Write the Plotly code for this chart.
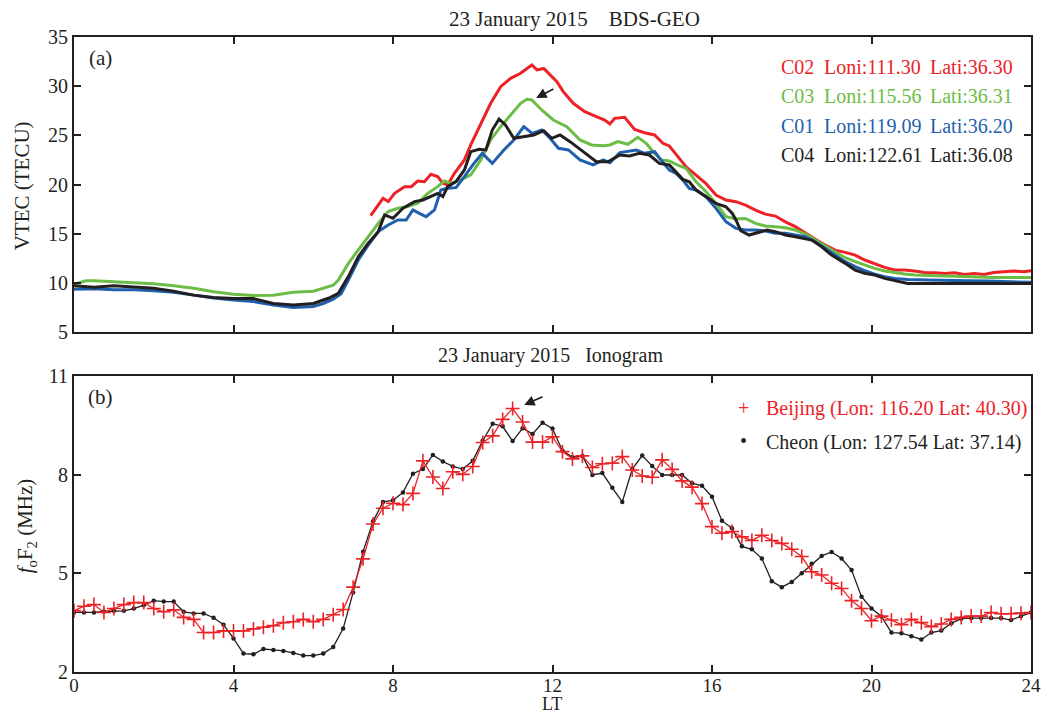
import plotly.graph_objects as go

# ---------------- Data: panel (a) VTEC (TECU) vs LT ----------------
c02_t = [7.44, 7.63, 7.75, 7.88, 8.04, 8.29, 8.46, 8.62, 8.79, 8.95, 9.12, 9.25, 9.37, 9.54, 9.79, 9.95,
         10.2, 10.45, 10.7, 10.95, 11.2, 11.36, 11.48, 11.61, 11.78, 12.11, 12.27, 12.52, 12.81, 13.1,
         13.31, 13.44, 13.56, 13.81, 14.06, 14.31, 14.56, 14.77, 14.93, 15.18, 15.35, 15.6, 15.85, 16.1,
         16.35, 16.6, 16.84, 17.09, 17.34, 17.59, 17.84, 18.09, 18.34, 18.59, 18.84, 19.09, 19.34, 19.59,
         19.83, 20.08, 20.33, 20.58, 20.83, 21.08, 21.33, 21.58, 21.83, 22.08, 22.33, 22.58, 22.82, 23.07,
         23.32, 23.57, 23.82, 24.0]
c02_v = [16.83, 17.92, 18.6, 18.26, 19.1, 19.78, 19.78, 20.36, 20.29, 21.04, 20.8, 20.12, 19.95, 21.14, 22.5, 24.02,
         26.22, 28.26, 29.95, 30.8, 31.31, 31.8, 32.15, 31.65, 31.8, 30.46, 29.44, 28.26, 27.41, 26.9,
         26.56, 26.15, 26.73, 26.83, 25.61, 25.27, 25.04, 24.19, 23.92, 22.66, 21.8, 20.96, 20.1, 18.93,
         18.42, 18.25, 17.9, 17.4, 16.99, 16.79, 16.2, 15.71, 15.03, 14.42, 13.84, 13.33, 13.1, 12.82,
         12.32, 11.91, 11.57, 11.3, 11.3, 11.2, 11.06, 11.03, 10.96, 11.03, 10.86, 10.96, 10.86, 11.06,
         11.13, 11.2, 11.13, 11.23]

c03_t = [0, 0.3, 0.5, 1.0, 1.5, 2.0, 2.5, 3.0, 3.5, 4.0, 4.5, 5.0, 5.5, 6.0, 6.25, 6.5, 6.63, 6.88, 7.13,
         7.38, 7.63, 7.88, 8.12, 8.37, 8.62, 8.87, 9.12, 9.29, 9.45, 9.7, 9.95, 10.2, 10.45, 10.7, 10.95,
         11.2, 11.36, 11.48, 11.73, 12.02, 12.36, 12.69, 12.98, 13.27, 13.44, 13.64, 13.89, 14.14, 14.35,
         14.52, 14.72, 14.93, 15.1, 15.35, 15.6, 15.85, 16.1, 16.35, 16.6, 16.84, 17.09, 17.34, 17.59,
         17.84, 18.09, 18.34, 18.59, 18.84, 19.09, 19.34, 19.59, 19.83, 20.08, 20.33, 20.58, 20.83, 21.08,
         21.33, 21.58, 21.83, 22.08, 22.58, 23.07, 23.57, 24.0]
c03_v = [9.85, 10.2, 10.2, 10.1, 10.0, 9.9, 9.7, 9.45, 9.1, 8.85, 8.7, 8.75, 9.05, 9.15, 9.45, 9.75, 10.29, 11.98, 13.34,
         14.7, 16.05, 17.24, 17.58, 17.75, 18.09, 19.1, 19.78, 20.36, 20.12, 20.46, 20.97, 22.5, 24.53, 25.88, 27.07,
         28.26, 28.66, 28.6, 27.58, 26.56, 25.88, 24.53, 24.02, 23.95, 24.02, 24.36, 24.09, 24.8, 24.19,
         23.34, 22.5, 22.39, 22.05, 21.64, 20.28, 19.27, 18.08, 16.72, 16.49, 16.55, 16.05, 15.78, 15.71,
         15.61, 15.37, 14.96, 14.35, 13.74, 13.17, 12.55, 12.15, 11.81, 11.47, 11.2, 11.03, 10.89, 10.79,
         10.76, 10.72, 10.69, 10.62, 10.62, 10.55, 10.55, 10.55]

c01_t = [0, 0.5, 1.0, 1.5, 2.0, 2.5, 3.0, 3.5, 4.0, 4.5, 5.0, 5.5, 6.0, 6.25, 6.5, 6.7, 6.88, 7.13, 7.38,
         7.63, 7.88, 8.12, 8.33, 8.5, 8.66, 8.83, 9.04, 9.2, 9.37, 9.58, 9.79, 10.03, 10.24, 10.49, 10.78,
         11.03, 11.28, 11.49, 11.73, 11.94, 12.15, 12.4, 12.69, 13.02, 13.27, 13.44, 13.69, 13.89, 14.1,
         14.31, 14.56, 14.72, 14.93, 15.1, 15.27, 15.43, 15.6, 15.85, 16.1, 16.35, 16.6, 16.84, 17.09,
         17.34, 17.59, 17.84, 18.09, 18.34, 18.59, 18.84, 19.09, 19.34, 19.59, 19.83, 20.08, 20.33, 20.58,
         20.91, 21.41, 21.91, 22.41, 22.91, 23.41, 24.0]
c01_v = [9.35, 9.4, 9.3, 9.3, 9.2, 9.05, 8.75, 8.45, 8.25, 8.1, 7.75, 7.5, 7.6, 7.9, 8.35, 8.9, 10.29, 12.32, 13.85,
         15.21, 15.88, 16.39, 16.39, 17.41, 17.07, 16.73, 17.41, 19.44, 19.61, 19.68, 20.8, 22.15, 23.17, 22.15, 23.51,
         24.53, 25.88, 25.2, 25.54, 24.7, 23.68, 23.51, 22.5, 21.99, 22.5, 22.22, 23.24, 23.34, 23.51,
         23.17, 23.34, 22.5, 21.48, 21.13, 20.45, 19.6, 19.44, 18.76, 17.57, 16.22, 15.54, 15.37, 15.37,
         15.27, 15.03, 15.03, 14.86, 14.69, 14.18, 13.5, 12.82, 12.15, 11.64, 11.23, 10.89, 10.62, 10.45,
         10.35, 10.28, 10.22, 10.22, 10.18, 10.11, 10.05]

c04_t = [0, 0.5, 1.0, 1.5, 2.0, 2.5, 3.0, 3.5, 4.0, 4.5, 5.0, 5.5, 6.0, 6.38, 6.63, 6.88, 7.13, 7.38, 7.63,
         7.79, 8.0, 8.25, 8.54, 8.75, 8.95, 9.12, 9.25, 9.37, 9.58, 9.79, 9.95, 10.16, 10.33, 10.49, 10.66,
         10.82, 11.03, 11.28, 11.53, 11.78, 11.98, 12.19, 12.44, 12.77, 13.1, 13.39, 13.69, 13.93, 14.18,
         14.43, 14.68, 14.93, 15.1, 15.27, 15.43, 15.6, 15.85, 16.1, 16.35, 16.51, 16.6, 16.72, 16.93,
         17.18, 17.38, 17.59, 17.84, 18.09, 18.34, 18.5, 18.75, 19.0, 19.34, 19.59, 19.83, 20.08, 20.33,
         20.58, 20.91, 21.41, 21.91, 22.41, 22.91, 23.41, 24.0]
c04_v = [9.7, 9.55, 9.7, 9.6, 9.45, 9.15, 8.75, 8.5, 8.4, 8.4, 7.9, 7.75, 7.9, 8.43, 8.93, 10.63, 12.66, 14.02, 15.21,
         16.9, 16.56, 17.58, 18.26, 18.43, 18.77, 19.1, 18.77, 19.78, 20.29, 21.48, 23.34, 23.58, 23.51, 25.54, 26.66,
         26.05, 24.7, 24.87, 25.04, 25.47, 24.7, 25.04, 24.36, 23.34, 22.32, 22.32, 23.0, 22.9, 23.17,
         23.0, 22.15, 21.99, 21.3, 20.52, 20.28, 19.44, 18.76, 18.08, 17.74, 17.06, 16.4, 15.3, 14.86,
         15.1, 15.37, 15.2, 14.86, 14.69, 14.52, 14.35, 13.67, 12.82, 11.98, 11.3, 10.96, 10.79, 10.45,
         10.22, 9.94, 9.94, 9.94, 9.94, 9.94, 9.94, 9.94]

# ---------------- Data: panel (b) foF2 (MHz), 15-min samples from 0 to 24 LT ----------------
beijing_f = [3.86, 4.0, 4.05, 3.81, 3.93, 4.05, 4.11, 4.11, 3.93, 3.83, 3.89, 3.66, 3.60, 3.20, 3.20, 3.25,
             3.25, 3.25, 3.31, 3.36, 3.41, 3.50, 3.53, 3.60, 3.53, 3.60, 3.74, 3.90, 4.58, 5.44, 6.50, 6.98,
             7.13, 7.09, 7.43, 8.42, 7.93, 7.58, 8.09, 8.01, 8.25, 8.98, 9.18, 9.68, 10.01, 9.60, 8.99, 8.99,
             9.15, 8.70, 8.48, 8.57, 8.22, 8.33, 8.35, 8.55, 8.14, 7.96, 7.92, 8.45, 8.16, 7.81, 7.62, 7.12,
             6.42, 6.22, 6.27, 6.11, 6.00, 6.16, 6.00, 5.91, 5.73, 5.51, 5.05, 4.95, 4.70, 4.54, 4.17, 3.93,
             3.56, 3.70, 3.58, 3.44, 3.60, 3.50, 3.38, 3.46, 3.60, 3.66, 3.70, 3.70, 3.81, 3.77, 3.77, 3.79,
             3.81]
cheon_f = [3.81, 3.81, 3.81, 3.84, 3.86, 3.86, 3.93, 4.03, 4.17, 4.14, 4.14, 3.83, 3.78, 3.78, 3.65, 3.44,
           3.02, 2.56, 2.54, 2.70, 2.67, 2.64, 2.58, 2.50, 2.50, 2.56, 2.76, 3.32, 4.42, 5.66, 6.58, 7.17,
           7.22, 7.46, 8.03, 8.17, 8.60, 8.40, 8.25, 8.17, 8.42, 9.04, 9.55, 9.47, 9.02, 9.41, 9.24, 9.58,
           9.40, 8.73, 8.53, 8.57, 7.99, 8.05, 7.60, 7.17, 8.17, 8.58, 8.26, 7.99, 7.99, 7.99, 7.74, 7.66,
           7.33, 6.60, 6.37, 5.82, 5.73, 5.45, 4.76, 4.58, 4.74, 5.00, 5.29, 5.53, 5.65, 5.45, 5.10, 4.29,
           3.93, 3.69, 3.20, 3.18, 3.09, 2.99, 3.20, 3.26, 3.48, 3.62, 3.64, 3.64, 3.64, 3.64, 3.58, 3.70,
           3.81]
iono_t = [0.25 * k for k in range(len(beijing_f))]

x_ticks = [0, 4, 8, 12, 16, 20, 24]

# ---------------- Styling ----------------
RED = "#ec2227"
GREEN = "#6cbd45"
BLUE = "#1f5fae"
BLACK = "#231f20"
FONT = "Liberation Serif"

W, H = 1053, 714
L, R, T, B = 74, 16, 37, 42
PW, PH = W - L - R, H - T - B


def px(xp):
    return (xp - L) / PW


def py(yp):
    return (H - B - yp) / PH


top_dom = [py(332), 1.0]
bot_dom = [0.0, py(376)]

fig = go.Figure()

for t, v, c in [(c02_t, c02_v, RED), (c03_t, c03_v, GREEN), (c01_t, c01_v, BLUE), (c04_t, c04_v, BLACK)]:
    fig.add_trace(go.Scatter(x=t, y=v, mode="lines", line=dict(color=c, width=3, shape="linear"),
                             xaxis="x", yaxis="y", showlegend=False))

fig.add_trace(go.Scatter(x=iono_t, y=cheon_f, mode="lines+markers",
                         line=dict(color=BLACK, width=1.3),
                         marker=dict(symbol="circle", size=4.5, color=BLACK),
                         xaxis="x2", yaxis="y2", showlegend=False))
fig.add_trace(go.Scatter(x=iono_t, y=beijing_f, mode="lines+markers",
                         line=dict(color=RED, width=1.3),
                         marker=dict(symbol="cross-thin", size=10, line=dict(color=RED, width=1.6)),
                         xaxis="x2", yaxis="y2", showlegend=False))

axis_common = dict(showline=True, linecolor=BLACK, linewidth=2, mirror="ticks", ticks="inside",
                   ticklen=7, tickwidth=1.5, tickcolor=BLACK, showgrid=False, zeroline=False)
ytick_font = dict(family=FONT, size=20, color=BLACK)
xtick_font = dict(family=FONT, size=19, color=BLACK)

fig.update_layout(
    width=W, height=H, margin=dict(l=L, r=R, t=T, b=B, pad=0),
    paper_bgcolor="white", plot_bgcolor="white",
    font=dict(family=FONT, color=BLACK),
    xaxis=dict(domain=[0, 1], anchor="y", range=[0, 24], tickvals=x_ticks, showticklabels=False,
               tickfont=xtick_font, **axis_common),
    yaxis=dict(domain=top_dom, anchor="x", range=[5, 35], tickvals=[5, 10, 15, 20, 25, 30, 35],
               tickfont=ytick_font, **axis_common),
    xaxis2=dict(domain=[0, 1], anchor="y2", range=[0, 24], tickvals=x_ticks, tickfont=xtick_font,
                ticklabelstandoff=-5, **axis_common),
    yaxis2=dict(domain=bot_dom, anchor="x2", range=[2, 11], tickvals=[2, 5, 8, 11],
                tickfont=ytick_font, **axis_common),
)

ann = []


def text(x, y, s, size=20, color=BLACK, xanchor="left", angle=0):
    ann.append(dict(x=px(x), y=py(y), xref="paper", yref="paper", text=s, showarrow=False,
                    xanchor=xanchor, yanchor="middle", textangle=angle,
                    font=dict(family=FONT, size=size, color=color)))


text(578, 19, "23 January 2015&nbsp;&nbsp;&nbsp;&nbsp;BDS-GEO", 21, xanchor="center")
text(553, 355, "23 January 2015&nbsp;&nbsp;&nbsp;Ionogram", 20, xanchor="center")
text(87, 58, "(a)", 21)
text(86, 397, "(b)", 21)
text(22, 186, "VTEC (TECU)", 21, xanchor="center", angle=-90)
text(26, 526, "<i>f</i><sub>o</sub>F<sub>2</sub> (MHz)", 21, xanchor="center", angle=-90)
text(555, 704.5, "LT", 18, xanchor="center")

legend_rows = [("C02", "Loni:111.30", "Lati:36.30", RED),
               ("C03", "Loni:115.56", "Lati:36.31", GREEN),
               ("C01", "Loni:119.09", "Lati:36.20", BLUE),
               ("C04", "Loni:122.61", "Lati:36.08", BLACK)]
for i, (a, b, c, col) in enumerate(legend_rows):
    yy = 67 + i * 29.4
    text(783, yy, a, 20, col)
    text(827, yy, b, 20, col)
    text(933, yy, c, 20, col)

text(748, 408, "+", 20, RED, xanchor="center")
text(768, 409, "Beijing (Lon: 116.20 Lat: 40.30)", 20, RED)
text(748, 441, "\u2022", 20, BLACK, xanchor="center")
text(768, 442, "Cheon (Lon: 127.54 Lat: 37.14)", 20, BLACK)

# arrows marking the peaks
ann.append(dict(x=11.59, y=28.8, ax=12.06, ay=29.8, xref="x", yref="y", axref="x", ayref="y",
                showarrow=True, arrowhead=2, arrowsize=1.3, arrowwidth=1.6, arrowcolor=BLACK, text=""))
ann.append(dict(x=11.29, y=10.12, ax=11.79, ay=10.39, xref="x2", yref="y2", axref="x2", ayref="y2",
                showarrow=True, arrowhead=2, arrowsize=1.3, arrowwidth=1.6, arrowcolor=BLACK, text=""))

fig.update_layout(annotations=ann)
fig.write_html("out.html")
